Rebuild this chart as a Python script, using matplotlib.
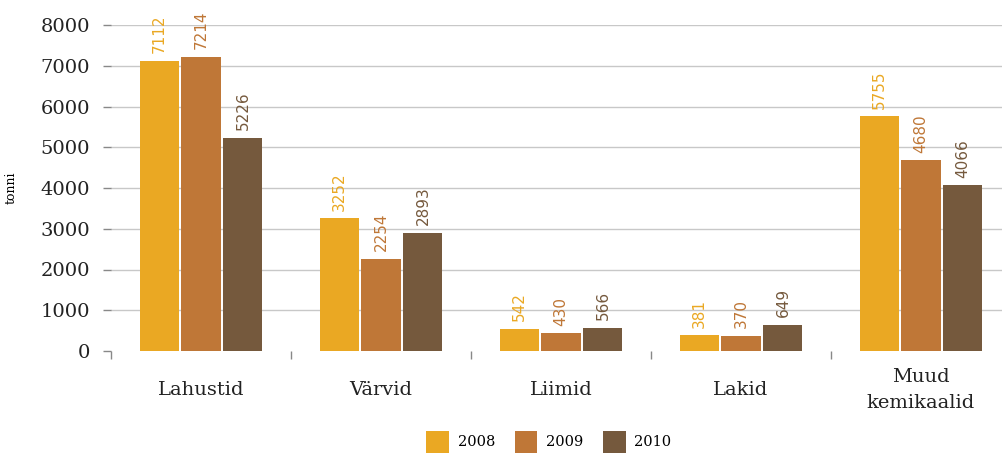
import matplotlib.pyplot as plt
import numpy as np

# data ------------------------------------------
categories = ['Lahustid', 'Värvid', 'Liimid', 'Lakid', 'Muud\nkemikaalid']
years      = ['2008', '2009', '2010']
v2008      = [7112, 3252, 542, 381, 5755]
v2009      = [7214, 2254, 430, 370, 4680]
v2010      = [5226, 2893, 566, 649, 4066]
y_ticks    = [0, 1000, 2000, 3000, 4000, 5000, 6000, 7000, 8000]

colors = ['#EAA823', '#BF7737', '#75593D']
serif  = 'DejaVu Serif'
# -----------------------------------------------

fig = plt.figure(figsize=(10.03, 4.55), dpi=100)
ax  = fig.add_axes([111 / 1003, 104 / 455, 892 / 1003, 326 / 455])

x = np.arange(len(categories))
step, width = 0.233, 0.217

for i, (vals, color) in enumerate(zip((v2008, v2009, v2010), colors)):
    pos = x + (i - 1) * step
    ax.bar(pos, vals, width=width, color=color, label=years[i], zorder=3)
    for p, v in zip(pos, vals):
        ax.text(p, v + 190, str(v), rotation=90, ha='center', va='bottom',
                color=color, fontsize=11, fontfamily='DejaVu Sans',
                clip_on=False)

ax.set_ylim(0, 8000)
ax.set_xlim(-0.5, 4.5 - 8 / 180)
ax.set_yticks(y_ticks)
ax.set_yticklabels([str(t) for t in y_ticks], fontsize=14, fontfamily=serif, color='#222222')
for t in y_ticks[1:]:
    ax.axhline(t, color='#c8c8c8', lw=1, zorder=1)

ax.set_xticks(x)
ax.set_xticklabels(categories, fontsize=14, fontfamily=serif, color='#222222',
                   linespacing=1.6, va='center')
ax.set_xticks(np.arange(-0.5, 4.5, 1), minor=True)
ax.tick_params(axis='x', which='major', length=0, pad=28)
ax.tick_params(axis='x', which='minor', length=5.5, color='#888888', width=1)
ax.tick_params(axis='y', length=6, color='#888888', width=1, pad=9)

for s in ax.spines.values():
    s.set_visible(False)

ax.set_ylabel('tonni', fontsize=9, fontfamily=serif)
ax.yaxis.set_label_coords(-(111 - 18) / 892, 0.5)

ax.legend(loc='upper center', bbox_to_anchor=(0.5 - 8 / 892, -0.205), ncol=3,
          frameon=False, prop={'family': serif, 'size': 10.5},
          handlelength=1.55, handleheight=1.9, columnspacing=1.35, handletextpad=0.6)

fig.savefig('out.png', dpi=100)
